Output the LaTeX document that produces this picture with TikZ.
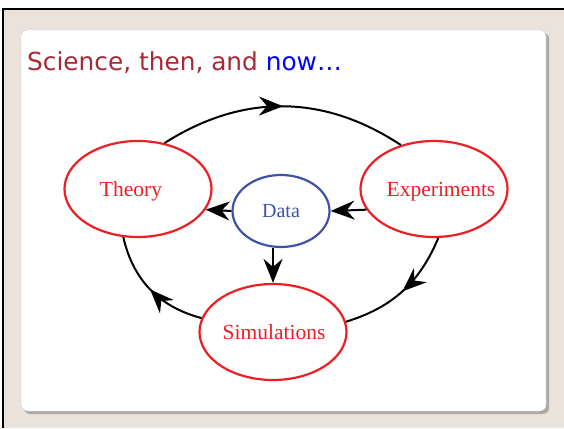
\documentclass[tikz,border=0pt]{standalone}
\usepackage{fontspec}
\setmainfont{Liberation Serif}
\newfontfamily\titlefont{DejaVu Sans}
\usepackage{tikz}
\usetikzlibrary{shapes.geometric,arrows.meta,decorations.markings}
\definecolor{SlideBgColor}{RGB}{233,227,219}
\definecolor{SlideTitleColor}{RGB}{165,42,56}
\definecolor{SlideNowColor}{RGB}{0,0,255}
\definecolor{CycleRedColor}{RGB}{237,30,36}
\definecolor{CycleBlueColor}{RGB}{62,82,168}
\definecolor{CardShadowColor}{RGB}{172,170,166}
\newcommand{\stagetext}[2]{\makebox[0pt]{\hspace*{#1}#2}}

\begin{document}
\begin{tikzpicture}[x=1pt,y=1pt,
stage/.style={ellipse,draw=CycleRedColor,line width=2.2pt,text=CycleRedColor,minimum width=147pt,minimum height=96pt,inner sep=0pt,text height=15pt,text depth=0pt,font=\fontsize{21.5}{24}\selectfont},
datum/.style={ellipse,draw=CycleBlueColor,line width=2.2pt,text=CycleBlueColor,minimum width=97pt,minimum height=72pt,inner sep=0pt,font=\fontsize{20}{24}\selectfont},
tip/.style={-{Stealth[length=24pt,width=19pt,inset=8pt]}},
arr/.style={line width=2pt,tip},
cyc/.style={line width=2pt,postaction={decorate},decoration={markings,mark=at position 0.5 with {\arrow{Stealth[length=24pt,width=19pt,inset=8pt]}}}}]
\useasboundingbox (0,0) rectangle (564,428);
% slide and card
\fill[SlideBgColor] (3,0) rectangle (564,419);
\draw[line width=2.4pt] (3,0) -- (3,419) -- (564,419);
\fill[CardShadowColor,rounded corners=6pt] (24,14) rectangle (549,395);
\filldraw[fill=white,draw=gray!45,rounded corners=6pt] (21,17) rectangle (546,398);
\node[anchor=base west,inner sep=0pt,text=SlideTitleColor,font=\titlefont\fontsize{24.8}{28}\selectfont] (title) at (27,357) {Science, then, and \textcolor{SlideNowColor}{now…}};
% cycle
   \node[stage] (theory) at (138,239) {\stagetext{-14pt}{Theory}};
   \node[stage] (experiments) at (434,239) {\stagetext{14pt}{Experiments}};
   \node[stage] (simulations) at (273,96) {\stagetext{2pt}{Simulations}};
   \node[datum] (data) at (281,217) {Data};
\draw[cyc] (theory.60) to[bend left=33] (experiments.127);
\draw[cyc] (experiments.275) to[bend left=25] (simulations.8);
\draw[cyc] (simulations.169) to[bend left=31] (theory.253);
\draw[arr] (experiments.197) -- (data.east);
\draw[arr] (data.west) -- (theory.-17);
\draw[arr] (simulations.north |- data.south) -- (simulations.north);
\end{tikzpicture}
\end{document}
